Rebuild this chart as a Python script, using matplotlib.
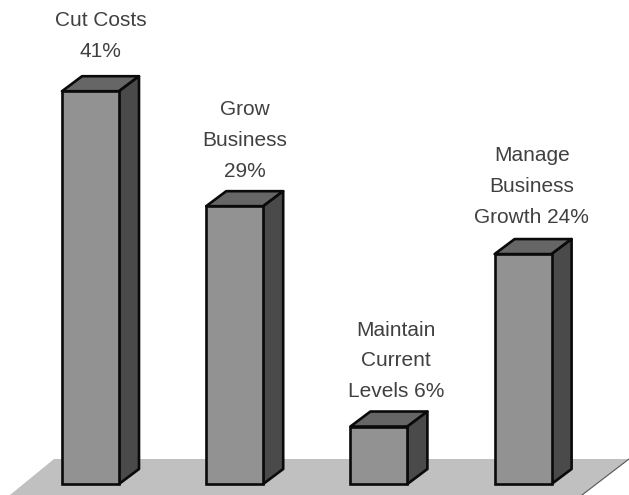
import matplotlib
matplotlib.use('Agg')
import matplotlib.pyplot as plt
from matplotlib.patches import Polygon

W, H = 629, 495

labels = ["Cut Costs\n41%", "Grow\nBusiness\n29%", "Maintain\nCurrent\nLevels 6%", "Manage\nBusiness\nGrowth 24%"]
values = [41, 29, 6, 24]

plt.rcParams['font.family'] = ['Liberation Sans', 'DejaVu Sans']

fig = plt.figure(figsize=(W / 100, H / 100), dpi=100)
ax = fig.add_axes([0, 0, 1, 1])

# one category step is 144.2 px, one percent is 9.58 px, baseline sits at y=484 px
px_x = 144.2
px_y = 9.58
ax.set_xlim(-90.5 / px_x, (W - 90.5) / px_x)
ax.set_ylim(-(H - 484) / px_y, 484 / px_y)
ax.axis('off')

bar_w = 57 / px_x
dx = 20 / px_x
dy = 15 / px_y
edge = '#0a0a0a'
lw = 1.9

# floor, in axes fractions
floor = [(54 / W, 1 - 459 / H), (1.0, 1 - 459 / H), (582 / W, 0.0), (10 / W, 0.0)]
ax.add_patch(Polygon(floor, closed=True, transform=ax.transAxes, fc='#c0c0c0', ec='none', zorder=1))
ax.plot([582 / W, 1.0], [0.0, 1 - 459 / H], transform=ax.transAxes, color='#555555', lw=0.8, zorder=1.5)

xs = list(range(len(values)))
ax.bar(xs, values, width=bar_w, color='#929292', edgecolor=edge, linewidth=lw, zorder=3)

# label nudges in points, the labels do not sit evenly over the bars
nudge_x = [0, 0, 5, -1]
nudge_y = [11, 7.5, 7.5, 9]

for x, v, label, nx, ny in zip(xs, values, labels, nudge_x, nudge_y):
    l, r = x - bar_w / 2, x + bar_w / 2
    top = [(l, v), (r, v), (r + dx, v + dy), (l + dx, v + dy)]
    side = [(r, 0), (r + dx, dy), (r + dx, v + dy), (r, v)]
    ax.add_patch(Polygon(top, closed=True, fc='#666666', ec=edge, lw=lw, joinstyle='round', zorder=2))
    ax.add_patch(Polygon(side, closed=True, fc='#4a4a4a', ec=edge, lw=lw, joinstyle='round', zorder=2))
    ax.annotate(label, xy=(x + dx / 2, v + dy), xytext=(nx, ny), textcoords='offset points',
                ha='center', va='bottom', multialignment='center', fontsize=15,
                linespacing=1.78, color='#404040', zorder=4)

fig.savefig('out.png', dpi=100, facecolor='white')
